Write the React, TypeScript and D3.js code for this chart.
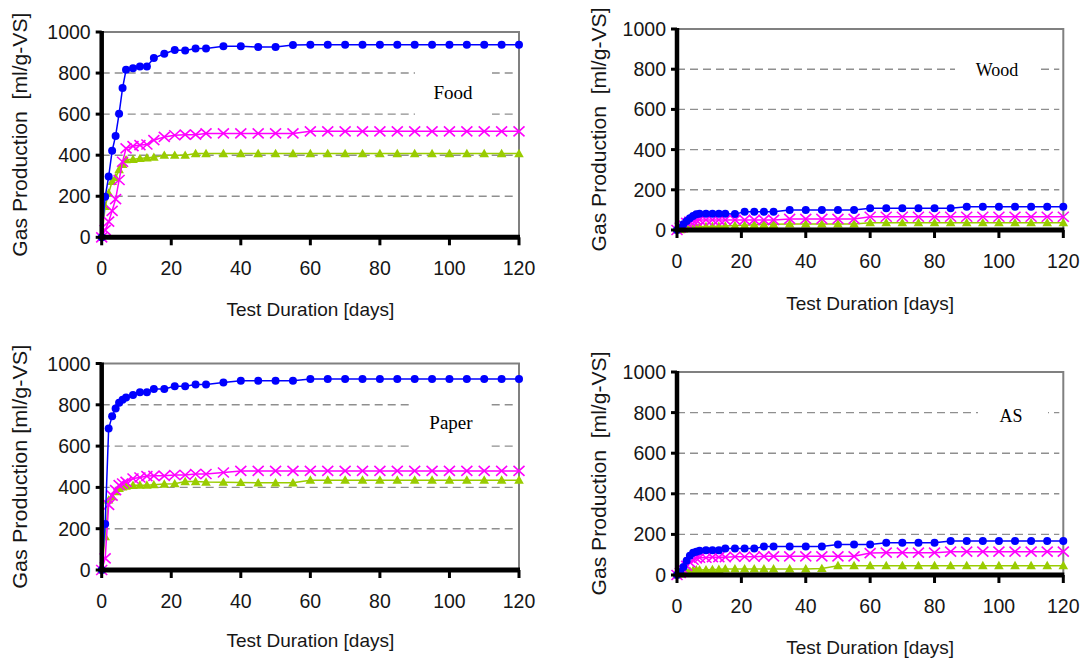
import React, { useEffect, useRef } from "react";
import * as d3 from "d3";

// sampling days shared by every series
const days = [0, 1, 2, 3, 4, 5, 6, 7, 9, 11, 13, 15, 18, 21, 24, 27, 30, 35, 40, 45, 50, 55, 60, 65, 70, 75, 80, 85, 90, 95, 100, 105, 110, 115, 120];

const xTicks = [0, 20, 40, 60, 80, 100, 120];
const yTicks = [0, 200, 400, 600, 800, 1000];

// Food
const foodBlue = [0, 197, 296, 421, 494, 602, 727, 816, 824, 832, 832, 873, 894, 912, 910, 920, 920, 930, 930, 927, 927, 937, 938, 938, 938, 938, 938, 938, 938, 938, 938, 938, 938, 938, 938];
const foodPink = [0, 35, 76, 129, 186, 279, 368, 433, 444, 449, 452, 473, 489, 497, 500, 500, 506, 506, 506, 506, 506, 506, 516, 516, 516, 516, 516, 516, 516, 516, 516, 516, 516, 516, 516];
const foodGreen = [0, 150, 215, 272, 290, 330, 355, 378, 380, 384, 387, 390, 400, 400, 400, 408, 408, 408, 408, 408, 408, 408, 408, 408, 408, 408, 408, 408, 408, 408, 408, 408, 408, 408, 408];

// Wood
const woodBlue = [0, 10, 28, 45, 58, 70, 78, 81, 81, 81, 81, 81, 79, 91, 91, 91, 91, 100, 100, 100, 100, 100, 108, 108, 108, 108, 108, 108, 116, 116, 116, 116, 116, 116, 116];
const woodPink = [0, 12, 25, 35, 42, 46, 48, 50, 50, 50, 50, 50, 50, 50, 50, 50, 50, 55, 55, 55, 55, 55, 66, 66, 66, 66, 66, 66, 66, 66, 66, 66, 66, 66, 66];
const woodGreen = [0, 2, 5, 8, 11, 13, 15, 16, 17, 18, 19, 20, 22, 24, 26, 28, 28, 30, 30, 30, 30, 30, 36, 36, 36, 36, 36, 36, 36, 36, 36, 36, 36, 36, 36];

// Paper
const paperBlue = [0, 223, 685, 745, 782, 810, 825, 835, 847, 861, 861, 877, 877, 890, 890, 898, 898, 908, 916, 916, 916, 916, 925, 925, 925, 925, 925, 925, 925, 925, 925, 925, 925, 925, 925];
const paperPink = [0, 56, 315, 360, 387, 411, 419, 427, 443, 448, 455, 456, 456, 460, 460, 465, 465, 472, 480, 480, 480, 480, 480, 480, 480, 480, 480, 480, 480, 480, 480, 480, 480, 480, 480];
const paperGreen = [0, 161, 339, 355, 379, 395, 403, 406, 410, 411, 411, 413, 416, 418, 428, 428, 426, 425, 424, 422, 422, 422, 435, 435, 435, 435, 435, 435, 435, 435, 435, 435, 435, 435, 435];

// AS
const asBlue = [0, 15, 40, 70, 95, 110, 115, 120, 122, 122, 122, 130, 130, 130, 130, 140, 140, 140, 140, 140, 150, 150, 150, 159, 159, 159, 159, 168, 168, 168, 168, 168, 168, 168, 168];
const asPink = [0, 10, 25, 45, 62, 75, 82, 85, 85, 88, 88, 88, 90, 90, 90, 92, 92, 92, 92, 92, 92, 92, 108, 110, 110, 110, 110, 115, 115, 115, 115, 115, 115, 115, 115];
const asGreen = [0, 5, 10, 15, 20, 23, 25, 25, 26, 27, 28, 30, 30, 30, 30, 30, 30, 30, 30, 32, 46, 46, 46, 46, 46, 46, 46, 46, 46, 46, 46, 46, 46, 46, 46];

const BLUE = "#0000ff";
const PINK = "#ff00ff";
const GREEN = "#99cc00";

const panels = [
  { name: "Food", left: 101.7, right: 519, top: 32, bottom: 237.3, blue: foodBlue, pink: foodPink, green: foodGreen,
    ytitle: "Gas Production\u00a0\u00a0[ml/g-VS]", ytx: 26.7, xtOff: 79, lab: { x: 453, y: 99, size: 19 }, box: [415, 492, 66, 122] },
  { name: "Wood", left: 677, right: 1063.3, top: 29, bottom: 230, blue: woodBlue, pink: woodPink, green: woodGreen,
    ytitle: "Gas Production\u00a0\u00a0[ml/g-VS]", ytx: 606, xtOff: 79.5, lab: { x: 997, y: 76, size: 18 }, box: [955, 1038, 60, 80] },
  { name: "Paper", left: 101.7, right: 519, top: 363.5, bottom: 570, blue: paperBlue, pink: paperPink, green: paperGreen,
    ytitle: "Gas Production [ml/g-VS]", ytx: 26.7, xtOff: 77, lab: { x: 451, y: 429, size: 19 }, box: [413, 490, 398, 452] },
  { name: "AS", left: 677, right: 1063.3, top: 372, bottom: 575, blue: asBlue, pink: asPink, green: asGreen,
    ytitle: "Gas Production\u00a0\u00a0[ml/g-VS]", ytx: 606, xtOff: 79, lab: { x: 1011, y: 422, size: 18 }, box: [978, 1048, 404, 419] },
];

const FONT = "'Liberation Sans', Arial, sans-serif";
const INK = "#161616";

function drawPanel(svg, p) {
  const x = d3.scaleLinear().domain([0, 120]).range([p.left, p.right]);
  const y = d3.scaleLinear().domain([0, 1000]).range([p.bottom, p.top]);
  const g = svg.append("g");

  // dashed grid
  g.append("g")
    .selectAll("line")
    .data(yTicks.filter((v) => v > 0 && v < 1000))
    .join("line")
    .attr("x1", p.left)
    .attr("x2", p.right - 4)
    .attr("y1", (d) => y(d))
    .attr("y2", (d) => y(d))
    .attr("stroke", "#8f8f8f")
    .attr("stroke-width", 1.4)
    .attr("stroke-dasharray", "8,5");

  // label box hiding the grid
  g.append("rect")
    .attr("x", p.box[0])
    .attr("y", p.box[2])
    .attr("width", p.box[1] - p.box[0])
    .attr("height", p.box[3] - p.box[2])
    .attr("fill", "#fff");
  g.append("text")
    .attr("x", p.lab.x)
    .attr("y", p.lab.y)
    .attr("text-anchor", "middle")
    .style("font-family", "'Liberation Serif', 'Times New Roman', serif")
    .style("font-size", p.lab.size + "px")
    .attr("fill", "#000")
    .text(p.name);

  // top / right frame
  g.append("path")
    .attr("d", `M${p.left},${p.top}H${p.right}V${p.bottom}`)
    .attr("fill", "none")
    .attr("stroke", "#808080")
    .attr("stroke-width", 2);

  const series = [
    { vals: p.green, color: GREEN, mark: "tri" },
    { vals: p.pink, color: PINK, mark: "x" },
    { vals: p.blue, color: BLUE, mark: "dot" },
  ];
  const line = d3.line().x((d) => x(d[0])).y((d) => y(d[1]));

  series.forEach((s) => {
    const pts = days.map((d, i) => [d, s.vals[i]]);
    g.append("path")
      .attr("d", line(pts))
      .attr("fill", "none")
      .attr("stroke", s.color)
      .attr("stroke-width", 1.5);
    const m = g.append("g").selectAll("g").data(pts).join("g")
      .attr("transform", (d) => `translate(${x(d[0])},${y(d[1])})`);
    if (s.mark === "dot") {
      m.append("circle").attr("r", 4).attr("fill", s.color);
    } else if (s.mark === "x") {
      m.append("path").attr("d", "M-5.5,-5L5.5,5M-5.5,5L5.5,-5")
        .attr("stroke", s.color).attr("stroke-width", 1.6);
    } else {
      m.append("path").attr("d", "M0,-4.8L4.8,3.6L-4.8,3.6Z").attr("fill", s.color);
    }
  });

  // thick axes
  g.append("line")
    .attr("x1", p.left).attr("x2", p.left)
    .attr("y1", p.top - 1).attr("y2", p.bottom + 2)
    .attr("stroke", "#000").attr("stroke-width", 4.5);
  g.append("line")
    .attr("x1", p.left - 2).attr("x2", p.right + 1)
    .attr("y1", p.bottom).attr("y2", p.bottom)
    .attr("stroke", "#000").attr("stroke-width", 5);

  g.append("g").selectAll("line").data(yTicks).join("line")
    .attr("x1", p.left - 6).attr("x2", p.left)
    .attr("y1", (d) => y(d)).attr("y2", (d) => y(d))
    .attr("stroke", "#000").attr("stroke-width", 3);
  g.append("g").selectAll("line").data(xTicks).join("line")
    .attr("x1", (d) => x(d)).attr("x2", (d) => x(d))
    .attr("y1", p.bottom).attr("y2", p.bottom + 8)
    .attr("stroke", "#000").attr("stroke-width", 3);

  // tick labels
  g.append("g").selectAll("text").data(yTicks).join("text")
    .attr("x", p.left - 11)
    .attr("y", (d) => y(d) + 7)
    .attr("text-anchor", "end")
    .style("font-family", FONT).style("font-size", "19.5px")
    .attr("fill", INK)
    .text((d) => d);
  g.append("g").selectAll("text").data(xTicks).join("text")
    .attr("x", (d) => x(d))
    .attr("y", p.bottom + 38)
    .attr("text-anchor", "middle")
    .style("font-family", FONT).style("font-size", "19.5px")
    .attr("fill", INK)
    .text((d) => d);

  // axis titles
  g.append("text")
    .attr("x", (p.left + p.right) / 2)
    .attr("y", p.bottom + p.xtOff)
    .attr("text-anchor", "middle")
    .style("font-family", FONT).style("font-size", "19px")
    .attr("fill", INK)
    .text("Test Duration [days]");
  g.append("text")
    .attr("transform", `translate(${p.ytx},${(p.top + p.bottom) / 2}) rotate(-90)`)
    .attr("text-anchor", "middle")
    .attr("textLength", 244)
    .attr("lengthAdjust", "spacingAndGlyphs")
    .style("font-family", FONT).style("font-size", "20px")
    .attr("fill", INK)
    .text(p.ytitle);
}

export default function App() {
  const ref = useRef(null);

  useEffect(() => {
    const svg = d3.select(ref.current);
    svg.selectAll("*").remove();
    panels.forEach((p) => drawPanel(svg, p));
  }, []);

  return (
    <svg
      ref={ref}
      width={1084}
      height={660}
      style={{ position: "absolute", left: 0, top: 0, background: "#fff" }}
    />
  );
}
